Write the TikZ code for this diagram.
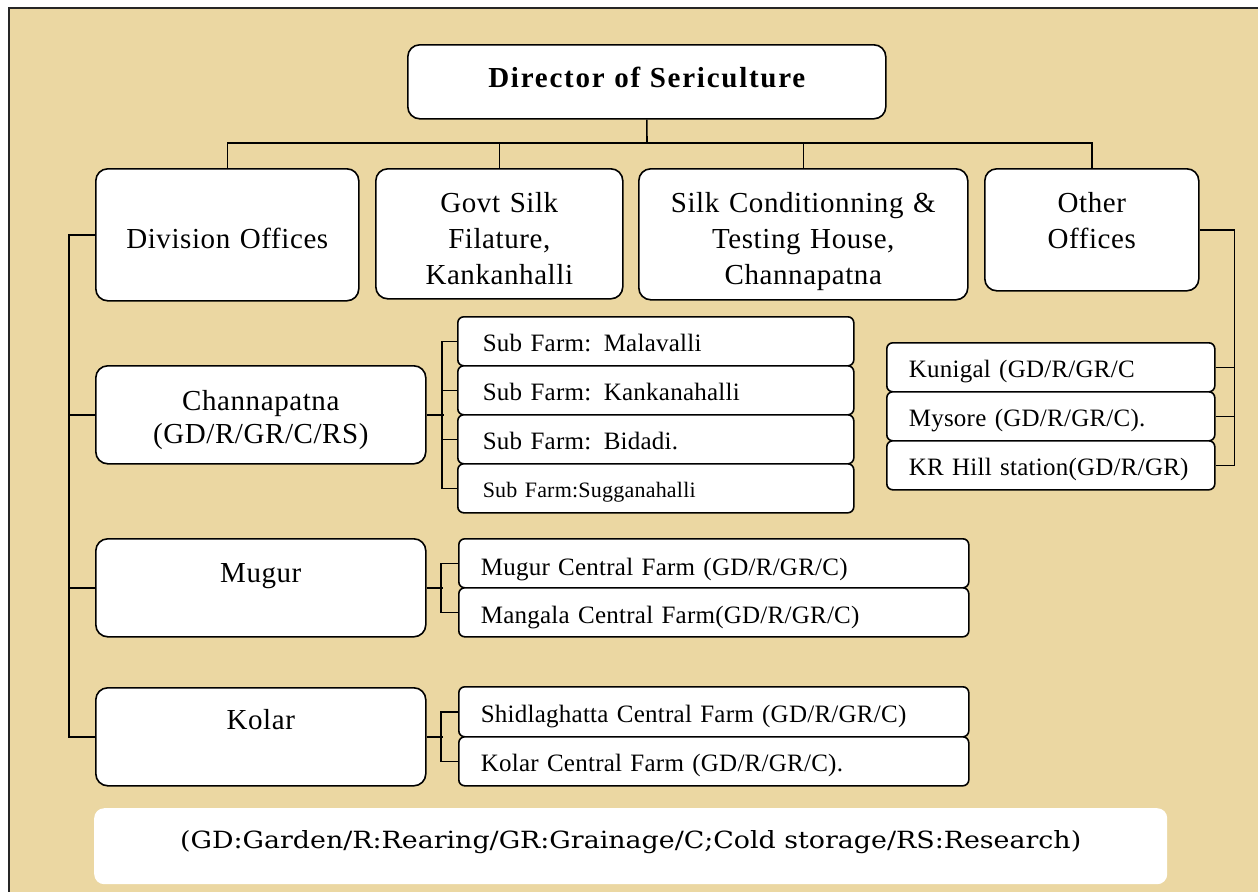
\documentclass[tikz,border=0pt]{standalone}
\usepackage{fontspec}
\usepackage{graphicx}
\newfontfamily\tnr[LetterSpace=2]{Liberation Serif}
\newfontfamily\tnrs[LetterSpace=1]{Liberation Serif}
\newfontfamily\tnrb[LetterSpace=6]{Liberation Serif}
\newfontfamily\legfont{DejaVu Serif}
\definecolor{parch}{RGB}{235,215,162}
\begin{document}
\begin{tikzpicture}[x=1pt,y=-1pt,
  bigbox/.style={draw, line width=1.6pt, fill=white, rounded corners=12pt, inner sep=0pt,
    align=center, anchor=north west, font=\tnr\fontsize{29}{36}\selectfont},
  smallbox/.style={draw, line width=1.6pt, fill=white, rounded corners=6pt, inner sep=0pt,
    align=left, anchor=north west, font=\tnrs\fontsize{25}{30}\selectfont},
  conn/.style={line width=1.6pt}]
\fill[white] (0,0) rectangle (1258,892);
\useasboundingbox (0,0) rectangle (1258,892);
\fill[parch] (9,8) rectangle (1258,892);
\draw[line width=1.5pt, black!85] (1258,8) -- (9,8) -- (9,892);

% top level
\node[bigbox, text width=478pt, text height=43pt, text depth=31pt,
  font=\tnrb\bfseries\fontsize{29}{35}\selectfont] (dir) at (407,44) {Director of Sericulture};

\node[bigbox, text width=263pt, text height=80pt, text depth=52pt] (div) at (95,168) {Division Offices};
\node[bigbox, text width=247pt, text height=44pt, text depth=86pt] (gov) at (375,168) {Govt Silk\\Filature,\\Kankanhalli};
\node[bigbox, text width=329pt, text height=44pt, text depth=87pt] (silk) at (638,168) {Silk Conditionning \&\\Testing House,\\Channapatna};
\node[bigbox, text width=214pt, text height=44pt, text depth=78pt] (oth) at (984,168) {Other\\Offices};

% divisions
\node[bigbox, text width=330pt, text height=45pt, text depth=53pt,
  font=\tnr\fontsize{29}{33}\selectfont] (chan) at (95,365) {Channapatna\\(GD/R/GR/C/RS)};
\node[bigbox, text width=330pt, text height=44pt, text depth=54pt] (mug) at (95,538) {Mugur};
\node[bigbox, text width=330pt, text height=42pt, text depth=56pt] (kol) at (95,687) {Kolar};

% sub farms
\node[smallbox, text width=396pt, text height=35pt, text depth=14pt] (sf1) at (457,316) {\hspace*{25pt}Sub Farm: Malavalli};
\node[smallbox, text width=396pt, text height=35pt, text depth=14pt] (sf2) at (457,365) {\hspace*{25pt}Sub Farm: Kankanahalli};
\node[smallbox, text width=396pt, text height=35pt, text depth=14pt] (sf3) at (457,414) {\hspace*{25pt}Sub Farm: Bidadi.};
\node[smallbox, text width=396pt, text height=34pt, text depth=15pt,
  font=\tnrs\fontsize{22}{26}\selectfont] (sf4) at (457,463) {\hspace*{25pt}Sub Farm:Sugganahalli};

% other offices farms
\node[smallbox, text width=328pt, text height=35pt, text depth=14pt] (of1) at (886,342) {\hspace*{22pt}Kunigal (GD/R/GR/C};
\node[smallbox, text width=328pt, text height=35pt, text depth=14pt] (of2) at (886,391) {\hspace*{22pt}Mysore (GD/R/GR/C).};
\node[smallbox, text width=328pt, text height=35pt, text depth=14pt] (of3) at (886,440) {\hspace*{22pt}KR Hill station(GD/R/GR)};

% mugur farms
\node[smallbox, text width=510pt, text height=37pt, text depth=12pt] (mf1) at (458,538) {\hspace*{22pt}Mugur Central Farm (GD/R/GR/C)};
\node[smallbox, text width=510pt, text height=36pt, text depth=13pt] (mf2) at (458,587) {\hspace*{22pt}Mangala Central Farm(GD/R/GR/C)};

% kolar farms
\node[smallbox, text width=510pt, text height=36pt, text depth=14pt] (kf1) at (458,686) {\hspace*{22pt}Shidlaghatta Central Farm (GD/R/GR/C)};
\node[smallbox, text width=510pt, text height=35pt, text depth=14pt] (kf2) at (458,736) {\hspace*{22pt}Kolar Central Farm (GD/R/GR/C).};

% legend
\node[fill=white, rounded corners=10pt, minimum width=1073pt, inner sep=0pt,
  text height=40pt, text depth=36pt, anchor=north west]
  (leg) at (94,808) {\resizebox{901pt}{18pt}{\legfont (GD:Garden/R:Rearing/GR:Grainage/C;Cold storage/RS:Research)}};

% connectors
\coordinate (j) at (647,143);
\draw[conn] (dir.south) -- (j);
\draw[conn] (j) -| (div.north);
\draw[conn] (j) -| (gov.north);
\draw[conn] (j) -| (silk.north);
\draw[conn] (j) -| (oth.north);

\draw[conn] (div.west) -- ++(-26,0) |- (kol.west);
\draw[conn] (chan.west) -- ++(-26,0);
\draw[conn] (mug.west) -- ++(-26,0);

\draw[conn] (chan.east) -- ++(17,0);
\draw[conn] (sf1.west) -- ++(-15,0) |- (sf4.west);
\draw[conn] (sf2.west) -- ++(-15,0);
\draw[conn] (sf3.west) -- ++(-15,0);

\draw[conn] (mug.east) -- ++(16,0);
\draw[conn] (mf1.west) -- ++(-17,0) |- (mf2.west);
\draw[conn] (kol.east) -- ++(16,0);
\draw[conn] (kf1.west) -- ++(-17,0) |- (kf2.west);

\draw[conn] (oth.east) -- ++(35,0) |- (of3.east);
\draw[conn] (of1.east) -- ++(19,0);
\draw[conn] (of2.east) -- ++(19,0);
\end{tikzpicture}
\end{document}
